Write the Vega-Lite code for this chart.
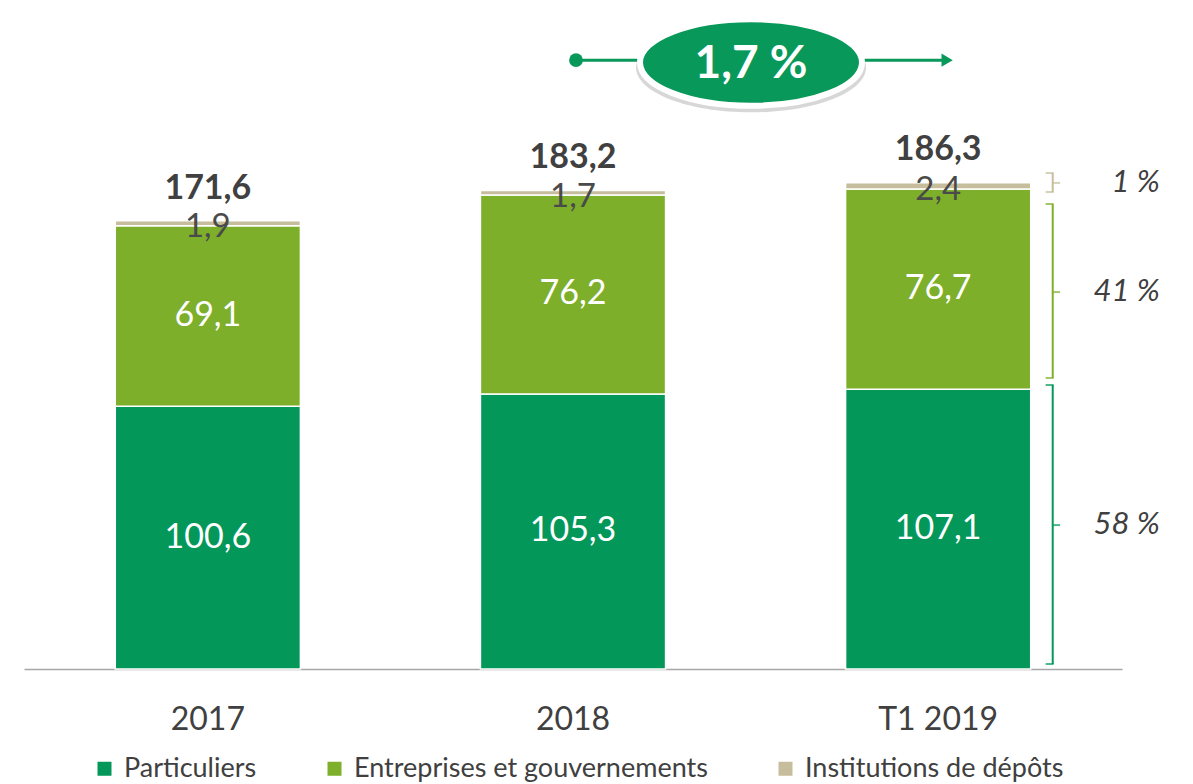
{
  "$schema": "https://vega.github.io/schema/vega-lite/v6.json",
  "width": 1098,
  "height": 653,
  "autosize": "none",
  "padding": {"left": 24, "top": 16, "right": 71, "bottom": 115},
  "background": "white",
  "config": {
    "view": {"stroke": null},
    "font": "Lato",
    "locale": {"number": {"decimal": ",", "thousands": " ", "grouping": [3], "currency": ["", " €"]}}
  },
  "datasets": {
    "segments": [
      {"year": "2017", "cat": "Particuliers", "rank": 1, "value": 100.6},
      {"year": "2017", "cat": "Entreprises et gouvernements", "rank": 2, "value": 69.1},
      {"year": "2017", "cat": "Institutions de dépôts", "rank": 3, "value": 1.9},
      {"year": "2018", "cat": "Particuliers", "rank": 1, "value": 105.3},
      {"year": "2018", "cat": "Entreprises et gouvernements", "rank": 2, "value": 76.2},
      {"year": "2018", "cat": "Institutions de dépôts", "rank": 3, "value": 1.7},
      {"year": "T1 2019", "cat": "Particuliers", "rank": 1, "value": 107.1},
      {"year": "T1 2019", "cat": "Entreprises et gouvernements", "rank": 2, "value": 76.7},
      {"year": "T1 2019", "cat": "Institutions de dépôts", "rank": 3, "value": 2.4}
    ],
    "totals": [
      {"year": "2017", "total": 171.6},
      {"year": "2018", "total": 183.2},
      {"year": "T1 2019", "total": 186.3}
    ],
    "brackets": [
      {"cat": "Particuliers", "lo": 1.9, "hi": 108.7, "mid": 55.1, "label": "58 %"},
      {"cat": "Entreprises et gouvernements", "lo": 111.4, "hi": 178.0, "mid": 144.3, "label": "41 %"},
      {"cat": "Institutions de dépôts", "lo": 182.6, "hi": 189.9, "mid": 186.1, "label": "1 %"}
    ],
    "badge": [{"label": "1,7 %"}]
  },
  "layer": [
    {
      "data": {"name": "segments"},
      "mark": {"type": "bar", "stroke": "white", "strokeWidth": 1.5},
      "encoding": {
        "x": {
          "field": "year", "type": "nominal", "sort": null, "title": null,
          "scale": {"paddingInner": 0.493, "paddingOuter": 0.25},
          "axis": {"domainColor": "#a6a6a6", "domainWidth": 1.5, "ticks": false, "labelFontSize": 32, "labelFont": "Lato", "labelColor": "#404040", "labelPadding": 35, "labelAngle": 0, "grid": false}
        },
        "y": {"field": "value", "type": "quantitative", "stack": "zero", "scale": {"domain": [0, 250], "nice": false, "zero": true}, "axis": null},
        "color": {
          "field": "cat", "type": "nominal",
          "scale": {"domain": ["Particuliers", "Entreprises et gouvernements", "Institutions de dépôts"], "range": ["#03985A", "#7DAF2B", "#C5BD9B"]},
          "legend": {"orient": "none", "legendX": 67, "legendY": 739, "direction": "horizontal", "title": null, "symbolType": "square", "symbolSize": 196, "labelFontSize": 27, "labelFont": "Lato", "labelColor": "#404040", "labelLimit": 0, "columnPadding": 64, "labelOffset": 6, "padding": 0, "symbolStrokeWidth": 0}
        },
        "order": {"field": "rank", "type": "quantitative"}
      }
    },
    {
      "data": {"name": "segments"},
      "mark": {"type": "text", "font": "Lato", "baseline": "middle", "fontSize": 34, "color": "#ffffff"},
      "encoding": {
        "x": {"field": "year", "type": "nominal", "sort": null},
        "y": {"field": "value", "type": "quantitative", "stack": "zero", "bandPosition": 0.5},
        "detail": {"field": "cat"},
        "order": {"field": "rank", "type": "quantitative"},
        "text": {"field": "value", "type": "quantitative", "format": ".1f"},
        "opacity": {"condition": {"test": "datum.cat === 'Institutions de dépôts'", "value": 0}, "value": 1}
      }
    },
    {
      "data": {"name": "segments"},
      "mark": {"type": "text", "font": "Lato", "baseline": "middle", "fontSize": 33, "color": "#4a4a4a", "dy": 4},
      "encoding": {
        "x": {"field": "year", "type": "nominal", "sort": null},
        "y": {"field": "value", "type": "quantitative", "stack": "zero", "bandPosition": 0.5},
        "detail": {"field": "cat"},
        "order": {"field": "rank", "type": "quantitative"},
        "text": {"field": "value", "type": "quantitative", "format": ".1f"},
        "opacity": {"condition": {"test": "datum.cat === 'Institutions de dépôts'", "value": 1}, "value": 0}
      }
    },
    {
      "data": {"name": "totals"},
      "mark": {"type": "text", "font": "Lato", "fontWeight": "bold", "fontSize": 34, "color": "#404040", "baseline": "alphabetic", "dy": -22},
      "encoding": {
        "x": {"field": "year", "type": "nominal", "sort": null},
        "y": {"field": "total", "type": "quantitative"},
        "text": {"field": "total", "type": "quantitative", "format": ".1f"}
      }
    },
    {
      "data": {"name": "brackets"},
      "mark": {"type": "rule", "strokeWidth": 2, "xOffset": 22},
      "encoding": {
        "x": {"datum": "T1 2019", "bandPosition": 1},
        "y": {"field": "lo", "type": "quantitative"},
        "y2": {"field": "hi"},
        "color": {"field": "cat", "type": "nominal", "legend": null}
      }
    },
    {
      "data": {"name": "brackets"},
      "mark": {"type": "tick", "orient": "horizontal", "size": 8, "thickness": 2, "xOffset": 111.5},
      "encoding": {
        "x": {"datum": "T1 2019"},
        "y": {"field": "lo", "type": "quantitative"},
        "color": {"field": "cat", "type": "nominal", "legend": null}
      }
    },
    {
      "data": {"name": "brackets"},
      "mark": {"type": "tick", "orient": "horizontal", "size": 8, "thickness": 2, "xOffset": 111.5},
      "encoding": {
        "x": {"datum": "T1 2019"},
        "y": {"field": "hi", "type": "quantitative"},
        "color": {"field": "cat", "type": "nominal", "legend": null}
      }
    },
    {
      "data": {"name": "brackets"},
      "mark": {"type": "tick", "orient": "horizontal", "size": 7, "thickness": 2, "xOffset": 118.5},
      "encoding": {
        "x": {"datum": "T1 2019"},
        "y": {"field": "mid", "type": "quantitative"},
        "color": {"field": "cat", "type": "nominal", "legend": null}
      }
    },
    {
      "data": {"name": "brackets"},
      "mark": {"type": "text", "font": "Lato", "fontStyle": "italic", "fontSize": 31, "color": "#404040", "align": "right", "baseline": "middle", "xOffset": 129},
      "encoding": {
        "x": {"datum": "T1 2019", "bandPosition": 1},
        "y": {"field": "mid", "type": "quantitative"},
        "text": {"field": "label"}
      }
    },
    {
      "data": {"name": "badge"},
      "mark": {"type": "rule", "color": "#08995A", "strokeWidth": 3, "xOffset": 3, "x2Offset": 8},
      "encoding": {
        "x": {"datum": "2018"},
        "x2": {"datum": "T1 2019"},
        "y": {"datum": 233.1}
      }
    },
    {
      "data": {"name": "badge"},
      "mark": {"type": "point", "shape": "circle", "filled": true, "opacity": 1, "size": 190, "color": "#08995A", "xOffset": 3},
      "encoding": {
        "x": {"datum": "2018"},
        "y": {"datum": 233.1}
      }
    },
    {
      "data": {"name": "badge"},
      "mark": {"type": "point", "shape": "triangle-right", "filled": true, "opacity": 1, "size": 170, "color": "#08995A", "xOffset": 9},
      "encoding": {
        "x": {"datum": "T1 2019"},
        "y": {"datum": 233.1}
      }
    },
    {
      "data": {"name": "badge"},
      "mark": {"type": "point", "shape": "M -1 0 A 1 0.39 0 1 1 1 0 A 1 0.39 0 1 1 -1 0 Z", "filled": true, "opacity": 0.35, "size": 52900, "color": "#8c8c8c", "xOffset": 178, "yOffset": 5},
      "encoding": {
        "x": {"datum": "2018"},
        "y": {"datum": 232.2}
      }
    },
    {
      "data": {"name": "badge"},
      "mark": {"type": "point", "shape": "M -1 0 A 1 0.39 0 1 1 1 0 A 1 0.39 0 1 1 -1 0 Z", "filled": true, "opacity": 1, "size": 49284, "fill": "#08995A", "stroke": "#ffffff", "strokeWidth": 6, "strokeOpacity": 1, "xOffset": 178},
      "encoding": {
        "x": {"datum": "2018"},
        "y": {"datum": 232.2}
      }
    },
    {
      "data": {"name": "badge"},
      "mark": {"type": "text", "font": "Lato", "fontWeight": "bold", "fontSize": 46, "color": "#ffffff", "baseline": "middle", "xOffset": 178, "dy": 2},
      "encoding": {
        "x": {"datum": "2018"},
        "y": {"datum": 232.2},
        "text": {"field": "label"}
      }
    }
  ]
}
